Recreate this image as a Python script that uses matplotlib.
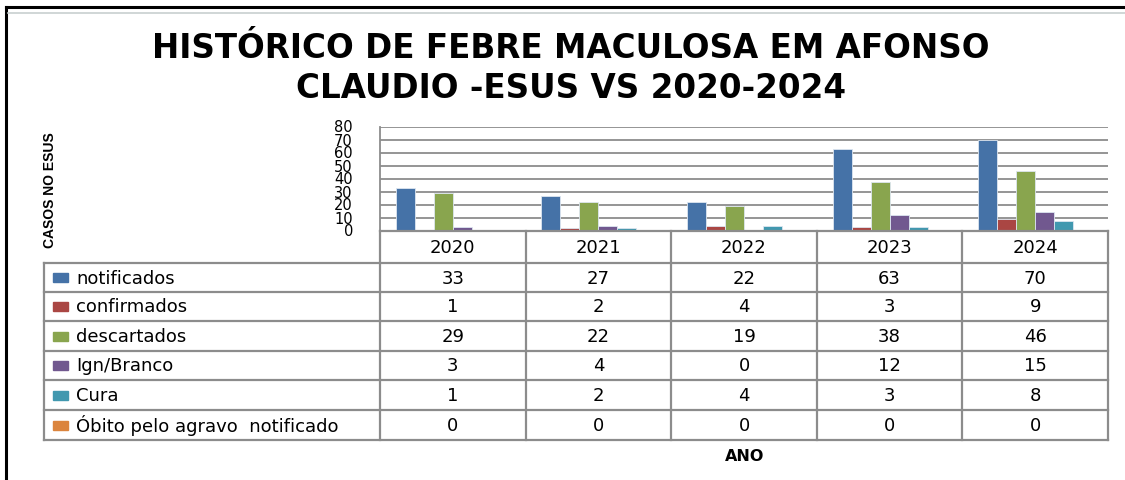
import matplotlib
matplotlib.use("Agg")
import matplotlib.pyplot as plt
from matplotlib.lines import Line2D
from matplotlib.patches import Rectangle
import numpy as np

years = ["2020", "2021", "2022", "2023", "2024"]
series_names = ["notificados", "confirmados", "descartados", "Ign/Branco", "Cura",
                "Óbito pelo agravo  notificado"]
notificados = [33, 27, 22, 63, 70]
confirmados = [1, 2, 4, 3, 9]
descartados = [29, 22, 19, 38, 46]
ign_branco = [3, 4, 0, 12, 15]
cura = [1, 2, 4, 3, 8]
obito = [0, 0, 0, 0, 0]
series_values = [notificados, confirmados, descartados, ign_branco, cura, obito]
colors = ["#4572A7", "#AA4643", "#89A54E", "#71588F", "#4198AF", "#DB843D"]
yticks = [0, 10, 20, 30, 40, 50, 60, 70, 80]

W, H = 1125, 481
fig = plt.figure(figsize=(W / 100, H / 100), dpi=100)

def fx(px):
    return px / W

def fy(py):
    return 1 - py / H

GRID = "#8C8C8C"

# outer frame lines
fig.add_artist(Line2D([fx(6), fx(1125)], [fy(8), fy(8)], color="black", lw=2.2))
fig.add_artist(Line2D([fx(6), fx(6)], [fy(8), fy(481)], color="black", lw=2.2))
fig.add_artist(Line2D([fx(8), fx(1125)], [fy(14), fy(14)], color="#C8D0D0", lw=1.2))

# title
title_kw = dict(ha="center", va="center", fontsize=23.5, fontweight="bold",
                family="DejaVu Sans", color="black")
fig.text(fx(571), fy(48), "HISTÓRICO DE FEBRE MACULOSA EM AFONSO", **title_kw)
fig.text(fx(571), fy(88), "CLAUDIO -ESUS VS 2020-2024", **title_kw)

# axes for bars
ax_l, ax_r, ax_t, ax_b = 380, 1108, 128, 232
ax = fig.add_axes([fx(ax_l), fy(ax_b), fx(ax_r) - fx(ax_l), fy(ax_t) - fy(ax_b)])
n = len(years)
x = np.arange(n)
bw = 0.1305
for i, (vals, c) in enumerate(zip(series_values, colors)):
    ax.bar(x + (i - 2.5) * bw, vals, width=bw, color=c, edgecolor="#DDE6F0",
           linewidth=0.6, zorder=3)
ax.set_xlim(-0.5, n - 0.5)
ax.set_ylim(0, 80)
ax.set_yticks(yticks)
ax.set_yticklabels([str(t) for t in yticks], fontsize=10.5, family="DejaVu Sans",
                   color="black")
ax.tick_params(axis="y", length=0, pad=19.5)
ax.tick_params(axis="x", length=0, labelbottom=False)
for t in ax.get_yticklabels():
    t.set_verticalalignment("center")
ax.yaxis.grid(True, color=GRID, lw=1.3, zorder=0)
for s in ["right", "bottom", "top"]:
    ax.spines[s].set_visible(False)
ax.spines["left"].set_color(GRID)
ax.spines["left"].set_linewidth(1.3)

# data table (category row + series rows)
col_edges = [fx(ax_l + k * (ax_r - ax_l) / n) for k in range(n + 1)]
leg_l = 44
row_edges = [264, 293, 322, 352, 381, 411, 441]
tkw = dict(color=GRID, lw=1.6)
fig.add_artist(Line2D([fx(ax_l), fx(ax_r)], [fy(ax_b), fy(ax_b)], **tkw))
for ry in row_edges:
    fig.add_artist(Line2D([fx(leg_l), fx(ax_r)], [fy(ry), fy(ry)], **tkw))
fig.add_artist(Line2D([fx(ax_l), fx(ax_l)], [fy(ax_b), fy(row_edges[-1])], **tkw))
for ce in col_edges[1:]:
    fig.add_artist(Line2D([ce, ce], [fy(ax_b), fy(row_edges[-1])], **tkw))
fig.add_artist(Line2D([fx(leg_l), fx(leg_l)], [fy(row_edges[0]), fy(row_edges[-1])], **tkw))

cell_kw = dict(ha="center", va="center", fontsize=13, family="DejaVu Sans", color="black")
for j, yr in enumerate(years):
    cx = (col_edges[j] + col_edges[j + 1]) / 2
    fig.text(cx, fy((ax_b + row_edges[0]) / 2), yr, **cell_kw)
for r, (name, vals, c) in enumerate(zip(series_names, series_values, colors)):
    cy = fy((row_edges[r] + row_edges[r + 1]) / 2)
    fig.add_artist(Rectangle((fx(53), cy - 4.5 / H), 15 / W, 9 / H, color=c,
                             transform=fig.transFigure))
    fig.text(fx(76), cy, name, ha="left", va="center", fontsize=13,
             family="DejaVu Sans", color="black")
    for j, v in enumerate(vals):
        cx = (col_edges[j] + col_edges[j + 1]) / 2
        fig.text(cx, cy, str(v), **cell_kw)

# axis titles
fig.text(fx(50), fy(190), "CASOS NO ESUS", rotation=90, ha="center", va="center",
         fontsize=10, fontweight="bold", family="Liberation Sans",
         color="black")
fig.text(fx(745), fy(457), "ANO", ha="center", va="center", fontsize=11.5,
         fontweight="bold", family="DejaVu Sans", color="black")

fig.savefig("out.png", dpi=100)
